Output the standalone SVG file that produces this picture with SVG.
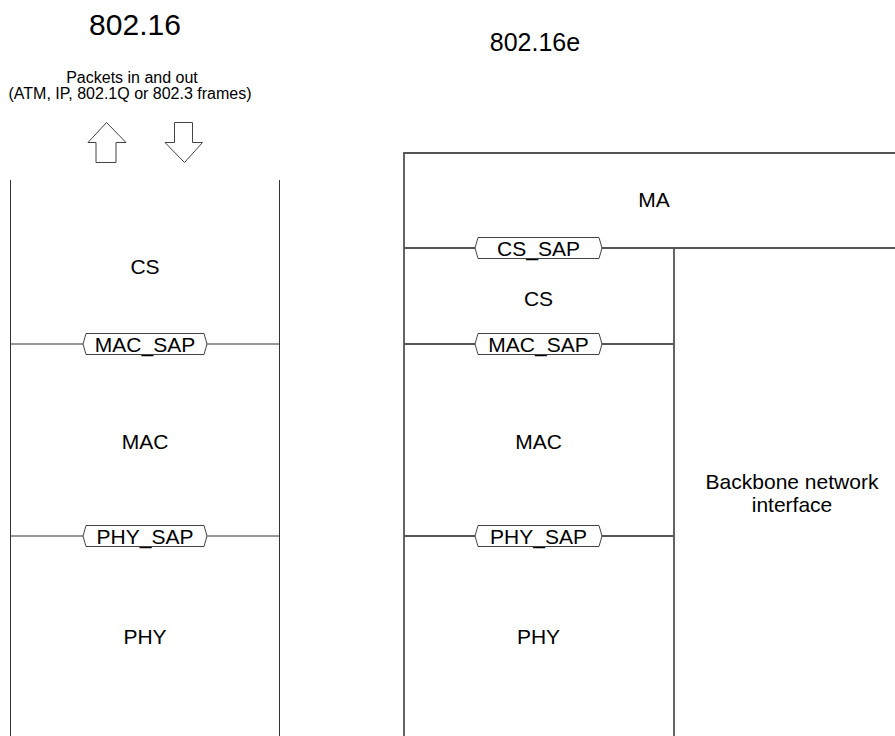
<svg xmlns="http://www.w3.org/2000/svg" width="895" height="736" viewBox="0 0 895 736">
<defs>
<style>
.t{font-family:"Liberation Sans",Arial,sans-serif;fill:#000;text-anchor:middle}
.l{stroke:#333;stroke-width:1;fill:none}
.r{stroke:#555;stroke-width:1.8;fill:none}
.sap{fill:#fff;stroke:#444;stroke-width:1}
.arr{fill:#fff;stroke:#444;stroke-width:1}
</style>
</defs>
<rect width="895" height="736" fill="#fff"/>
<g id="titles">
<text class="t" x="135" y="35" font-size="30">802.16</text>
<text class="t" x="535" y="51" font-size="25">802.16e</text>
</g>
<g id="packets">
<text class="t" x="132" y="83" font-size="16">Packets in and out</text>
<text class="t" x="130" y="99" font-size="16">(ATM, IP, 802.1Q or 802.3 frames)</text>
<polygon class="arr" points="106.5,122.5 126,142.5 116,142.5 116,162.5 96,162.5 96,142.5 88,142.5"/>
<polygon class="arr" points="174.5,122.5 192.5,122.5 192.5,142.5 202.5,142.5 184.5,162.5 165,142.5 174.5,142.5"/>
</g>
<g id="connectors">
<path class="l" d="M10.5,180 V736 M279.5,180 V736"/>
<path class="l" d="M10.5,344 H83 M207,344 H279.5 M10.5,536 H83 M207,536 H279.5"/>
<path class="r" d="M404,736 V153 H895 M404,248 H475 M602,248 H895 M674,248 V736"/>
<path class="r" d="M404,344 H475 M602,344 H674 M404,536 H475 M602,536 H674"/>
</g>
<g id="cs-left"><text class="t" x="145" y="274" font-size="21">CS</text></g>
<g id="mac-sap-left">
<polygon class="sap" points="83,344 86,333.5 204,333.5 207,344 204,354.5 86,354.5"/>
<text class="t" x="145" y="352" font-size="21">MAC_SAP</text>
</g>
<g id="mac-left"><text class="t" x="145" y="449" font-size="21">MAC</text></g>
<g id="phy-sap-left">
<polygon class="sap" points="83,536 86,525.5 204,525.5 207,536 204,546.5 86,546.5"/>
<text class="t" x="145" y="544" font-size="21">PHY_SAP</text>
</g>
<g id="phy-left"><text class="t" x="145" y="644" font-size="21">PHY</text></g>
<g id="ma"><text class="t" x="654" y="207" font-size="21">MA</text></g>
<g id="cs-sap-right">
<polygon class="sap" points="475,248 478,237.5 599,237.5 602,248 599,258.5 478,258.5"/>
<text class="t" x="538.5" y="256" font-size="21">CS_SAP</text>
</g>
<g id="cs-right"><text class="t" x="538.5" y="306" font-size="21">CS</text></g>
<g id="mac-sap-right">
<polygon class="sap" points="475,344 478,333.5 599,333.5 602,344 599,354.5 478,354.5"/>
<text class="t" x="538.5" y="352" font-size="21">MAC_SAP</text>
</g>
<g id="mac-right"><text class="t" x="538.5" y="449" font-size="21">MAC</text></g>
<g id="phy-sap-right">
<polygon class="sap" points="475,536 478,525.5 599,525.5 602,536 599,546.5 478,546.5"/>
<text class="t" x="538.5" y="544" font-size="21">PHY_SAP</text>
</g>
<g id="phy-right"><text class="t" x="538.5" y="644" font-size="21">PHY</text></g>
<g id="backbone">
<text class="t" x="792" y="489" font-size="21">Backbone network</text>
<text class="t" x="792" y="512" font-size="21">interface</text>
</g>
</svg>
